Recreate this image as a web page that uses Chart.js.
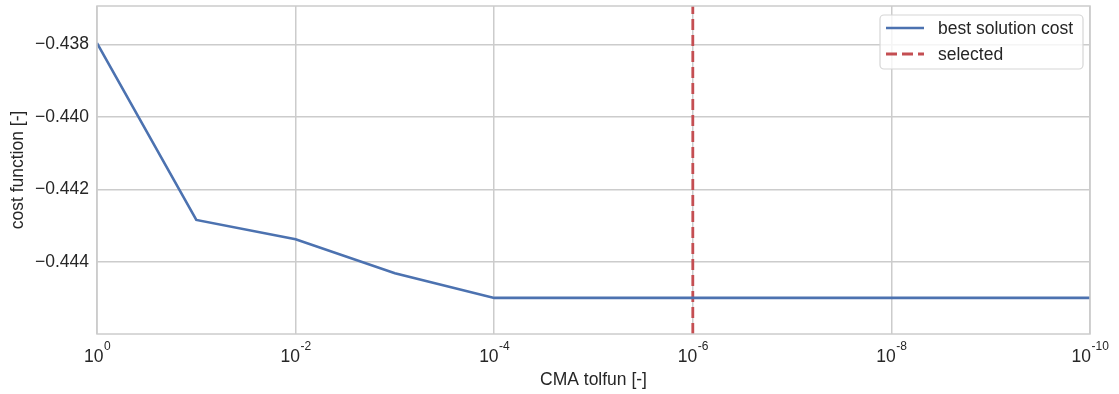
<!DOCTYPE html>
<html>
<head>
<meta charset="utf-8">
<script src="https://cdn.jsdelivr.net/npm/chart.js@4/dist/chart.umd.min.js"></script>
<style>
  html, body { margin: 0; padding: 0; background: #fff; }
  #wrap { width: 1119px; height: 394px; }
</style>
</head>
<body>
<div id="wrap"><canvas id="grafico"></canvas></div>
<script>
// exponentes de tolfun (10^x)
var TOLFUN_EXP = [0, -1, -2, -3, -4, -5, -6, -7, -8, -9, -10];
var COSTO = [-0.43796, -0.44284, -0.44337, -0.44431, -0.44499, -0.44499,
             -0.44499, -0.44499, -0.44499, -0.44499, -0.44499];
var SELECCIONADO = -6;
var X_TICKS = [0, -2, -4, -6, -8, -10];
var Y_TICKS = [-0.444, -0.442, -0.440, -0.438];
var Y_MIN = -0.445986, Y_MAX = -0.436938;

var FUENTE = "'Liberation Sans', Arial, sans-serif";
var GRIS = "#cccccc";
var AZUL = "#4c72b0";
var ROJO = "#c44e52";
var TEXTO = "#262626";

// etiquetas 10^n, marco y leyenda dentro del area
var extras = {
    id: "extras",
    afterDraw: function (chart) {
        var ctx = chart.ctx, a = chart.chartArea, xs = chart.scales.x;
        ctx.save();
        // marco
        ctx.strokeStyle = GRIS;
        ctx.lineWidth = 1.5;
        ctx.strokeRect(a.left, a.top, a.right - a.left, a.bottom - a.top);

        // etiquetas del eje x
        ctx.fillStyle = TEXTO;
        ctx.textBaseline = "alphabetic";
        ctx.textAlign = "left";
        X_TICKS.forEach(function (v) {
            var px = xs.getPixelForValue(v);
            ctx.font = "17.5px " + FUENTE;
            var wb = ctx.measureText("10").width;
            ctx.font = "12px " + FUENTE;
            var e = String(v);
            var we = ctx.measureText(e).width;
            var x0 = px - (wb + we) / 2;
            ctx.font = "17.5px " + FUENTE;
            ctx.fillText("10", x0, 362);
            ctx.font = "12px " + FUENTE;
            ctx.fillText(e, x0 + wb + 0.5, 350);
        });

        // leyenda
        var bx = 880, by = 15, bw = 203, bh = 54;
        ctx.beginPath();
        ctx.roundRect(bx, by, bw, bh, 4);
        ctx.fillStyle = "rgba(255,255,255,0.8)";
        ctx.fill();
        ctx.strokeStyle = "#d6d6d6";
        ctx.lineWidth = 1.2;
        ctx.stroke();

        chart.data.datasets.forEach(function (ds, i) {
            var y = 28 + i * 26;
            ctx.beginPath();
            ctx.setLineDash(ds.borderDash || []);
            ctx.strokeStyle = ds.borderColor;
            ctx.lineWidth = ds.borderWidth;
            ctx.moveTo(886, y);
            ctx.lineTo(924, y);
            ctx.stroke();
            ctx.setLineDash([]);
            ctx.fillStyle = TEXTO;
            ctx.font = "17.5px " + FUENTE;
            ctx.textBaseline = "middle";
            ctx.fillText(ds.label, 938, y + 1);
        });
        ctx.restore();
    }
};

var puntos = TOLFUN_EXP.map(function (x, i) { return { x: x, y: COSTO[i] }; });

new Chart(document.getElementById("grafico").getContext("2d"), {
    type: "line",
    data: {
        datasets: [
            {
                label: "best solution cost",
                data: puntos,
                borderColor: AZUL,
                borderWidth: 2.6,
                pointRadius: 0,
                tension: 0
            },
            {
                label: "selected",
                data: [{ x: SELECCIONADO, y: Y_MIN }, { x: SELECCIONADO, y: Y_MAX }],
                borderColor: ROJO,
                borderWidth: 2.8,
                borderDash: [11, 5],
                pointRadius: 0
            }
        ]
    },
    options: {
        responsive: true,
        maintainAspectRatio: false,
        animation: false,
        layout: { padding: { top: 6, right: 29, left: 0, bottom: 0 } },
        plugins: {
            legend: { display: false },
            tooltip: { enabled: false }
        },
        scales: {
            x: {
                type: "linear",
                reverse: true,
                min: -10,
                max: 0,
                afterBuildTicks: function (s) {
                    s.ticks = X_TICKS.map(function (v) { return { value: v }; });
                },
                afterFit: function (s) {
                    s.height = 60;
                    s.paddingLeft = 0; s.paddingRight = 0;
                },
                grid: { color: GRIS, lineWidth: 1.5, drawTicks: false },
                border: { display: false },
                ticks: { display: false },
                title: {
                    display: true,
                    text: "CMA tolfun [-]",
                    color: TEXTO,
                    font: { family: FUENTE, size: 17.5 },
                    padding: { top: 0, bottom: 3.5 }
                }
            },
            y: {
                min: Y_MIN,
                max: Y_MAX,
                afterBuildTicks: function (s) {
                    s.ticks = Y_TICKS.map(function (v) { return { value: v }; });
                },
                afterFit: function (s) {
                    s.width = 97;
                    s.paddingTop = 0; s.paddingBottom = 0;
                },
                grid: { color: GRIS, lineWidth: 1.5, drawTicks: false },
                border: { display: false },
                ticks: {
                    color: TEXTO,
                    padding: 8,
                    font: { family: FUENTE, size: 17.5 },
                    callback: function (v) { return "\u2212" + Math.abs(v).toFixed(3); }
                },
                title: {
                    display: true,
                    text: "cost function [-]",
                    color: TEXTO,
                    font: { family: FUENTE, size: 17.5 },
                    padding: { top: 7.5, bottom: 0 }
                }
            }
        }
    },
    plugins: [extras]
});
</script>
</body>
</html>
